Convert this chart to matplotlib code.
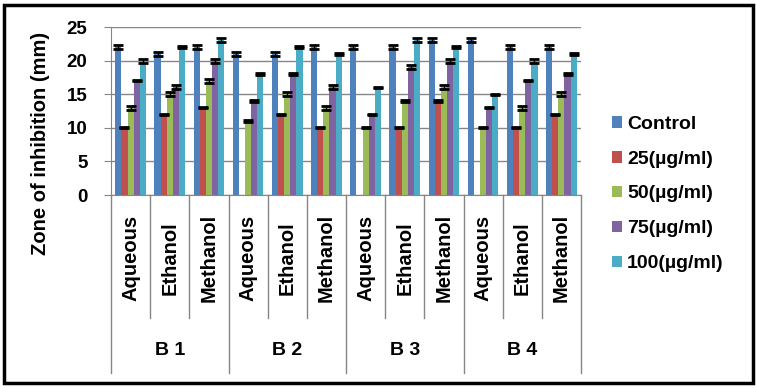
import numpy as np
import matplotlib as mpl
import matplotlib.pyplot as plt
from matplotlib.patches import Rectangle
from matplotlib.transforms import blended_transform_factory

groups = ('B 1', 'B 2', 'B 3', 'B 4')
extracts = ('Aqueous', 'Ethanol', 'Methanol')
series = ('Control', '25(µg/ml)', '50(µg/ml)', '75(µg/ml)', '100(µg/ml)')
colors = ('#4F81BD', '#C0504D', '#9BBB59', '#8064A2', '#4BACC6')

control = (22, 21, 22, 21, 21, 22, 22, 22, 23, 23, 22, 22)
conc25 = (10, 12, 13, 0, 12, 10, 0, 10, 14, 0, 10, 12)
conc50 = (13, 15, 17, 11, 15, 13, 10, 14, 16, 10, 13, 15)
conc75 = (17, 16, 20, 14, 18, 16, 12, 19, 20, 13, 17, 18)
conc100 = (20, 22, 23, 18, 22, 21, 16, 23, 22, 15, 20, 21)

err_control = (0.3, 0.3, 0.3, 0.3, 0.3, 0.3, 0.3, 0.3, 0.3, 0.3, 0.3, 0.3)
err25 = (0.1, 0.1, 0.1, 0, 0.1, 0.1, 0, 0.1, 0.1, 0, 0.1, 0.1)
err50 = (0.3, 0.3, 0.3, 0.1, 0.3, 0.3, 0.1, 0.1, 0.3, 0.1, 0.3, 0.3)
err75 = (0.1, 0.3, 0.3, 0.1, 0.1, 0.3, 0.1, 0.3, 0.3, 0.1, 0.1, 0.1)
err100 = (0.3, 0.1, 0.3, 0.1, 0.1, 0.1, 0.1, 0.3, 0.1, 0.1, 0.3, 0.1)

values = (control, conc25, conc50, conc75, conc100)
errors = (err_control, err25, err50, err75, err100)

mpl.rcParams.update({'font.family': 'Liberation Sans', 'font.weight': 'bold'})
dpi = 100
fig = plt.figure(dpi=dpi, figsize=(757 / dpi, 388 / dpi))
ax = fig.add_axes([111 / 757, 1 - 195 / 388, 470 / 757, 168 / 388])

n = len(control)
x = np.arange(n) + 0.5
width = 0.156
for i, (vals, errs, color, name) in enumerate(zip(values, errors, colors, series)):
    pos = x + (i - 2) * width
    vals = np.array(vals, dtype=float)
    ax.bar(pos, vals, width=width, color=color, label=name, zorder=2)
    shown = np.where(vals > 0, vals, np.nan)
    ax.errorbar(pos, shown, yerr=errs, fmt='none', ecolor='black',
                elinewidth=1, capsize=3.6, capthick=2, zorder=3)

grey = '#868686'
ax.set_xlim(0, n)
ax.set_ylim(0, 25)
ax.set_yticks(range(0, 26, 5))
ax.yaxis.grid(True, color=grey, linewidth=1, zorder=0)
ax.set_axisbelow(True)
ax.set_xticks([])
for side in ('top', 'right'):
    ax.spines[side].set_visible(False)
for side in ('left', 'bottom'):
    ax.spines[side].set_color(grey)
ax.tick_params(axis='y', length=5, color=grey, pad=12, labelsize=13.5)

# category axis: dividers and labels under the plot
trans = blended_transform_factory(ax.transData, ax.transAxes)
for k in range(n + 1):
    bottom = -1.06 if k % 3 == 0 else -0.732
    ax.plot([k, k], [0, bottom], color=grey, linewidth=1,
            transform=trans, clip_on=False)
for k in range(n):
    ax.text(x[k], -0.375, extracts[k % 3], rotation=90, ha='center',
            va='center', fontsize=14.5, transform=trans)
for g, name in enumerate(groups):
    ax.text(3 * g + 1.5, -0.923, name, ha='center', va='center',
            fontsize=14, transform=trans)

fig.text(41 / 757, 1 - 143 / 388, 'Zone of inhibition (mm)', rotation=90,
         ha='center', va='center', fontsize=14.5)

handles, labels = ax.get_legend_handles_labels()
fig.legend(handles, labels, loc='center left', bbox_to_anchor=(0.808, 0.5),
           frameon=False, fontsize=14, borderpad=0, borderaxespad=0,
           handlelength=0.55, handleheight=0.55, handletextpad=0.25,
           labelspacing=0.92)

fig.patches.append(Rectangle((3.5 / 757, 5 / 388), 749 / 757, 378.5 / 388,
                             transform=fig.transFigure, fill=False,
                             edgecolor='black', linewidth=2.5))

fig.savefig('out.png', dpi=dpi)
